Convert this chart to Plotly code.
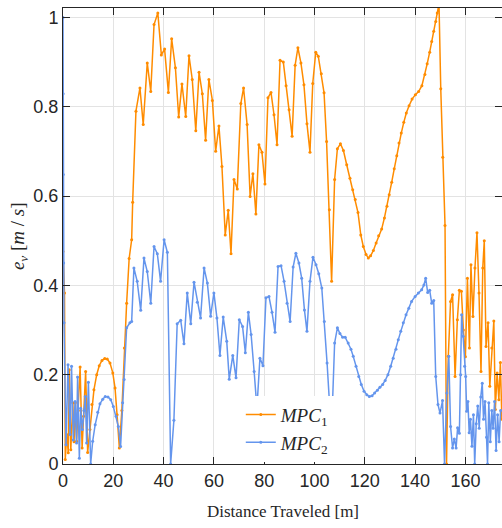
import plotly.graph_objects as go

# Velocity tracking error along the path for the two controllers
mpc1_dist = [0.0, 0.6, 0.9, 1.5, 2.1, 2.5, 3.1, 3.9, 4.4, 4.9, 5.4, 6.1, 6.8, 7.6, 8.2, 9.0, 9.8,
             10.7, 11.5, 12.3, 13.4, 14.4, 15.5, 16.6, 17.6, 18.7, 19.8, 20.7, 21.5, 22.4, 23.4,
             24.4, 25.3, 26.3, 27.3, 27.7, 29.0, 30.6, 31.9, 33.5, 34.9, 36.2, 37.7, 39.1, 40.4,
             41.9, 43.2, 44.7, 46.0, 47.3, 48.8, 50.1, 51.4, 52.8, 54.1, 55.4, 56.7, 58.0, 59.4,
             60.7, 62.0, 63.2, 64.5, 65.7, 66.8, 68.0, 69.3, 70.7, 71.8, 73.2, 74.4, 75.5, 76.7,
             77.9, 79.1, 80.3, 81.5, 82.7, 83.9, 85.1, 86.3, 87.6, 88.7, 89.9, 91.1, 92.3, 93.4,
             94.6, 95.8, 97.0, 98.2, 99.3, 100.5, 101.5, 102.7, 103.8, 104.8, 105.9, 106.8, 108.0,
             109.1, 110.3, 111.5, 112.8, 114.1, 115.2, 116.2, 117.3, 118.4, 119.4, 120.5, 121.4,
             122.3, 123.4, 124.5, 125.5, 126.7, 127.8, 128.8, 129.7, 130.7, 131.7, 132.7, 133.6,
             134.5, 135.5, 136.5, 137.6, 138.8, 140.1, 141.4, 142.7, 143.9, 144.8, 145.8, 146.6,
             147.4, 148.2, 148.8, 149.5, 150.2, 151.0, 151.9, 152.5, 153.2, 154.1, 154.9, 155.9,
             156.8, 157.6, 158.4, 159.2, 160.0, 160.8, 161.6, 162.2, 163.0, 163.8, 164.6, 165.4,
             166.2, 166.9, 167.5, 168.2, 169.0, 169.7, 170.5, 171.3, 171.9, 172.6, 173.3, 173.9,
             174.5]
mpc1_err = [0.476, 0.383, 0.01, 0.066, 0.025, 0.211, 0.032, 0.137, 0.05, 0.137, 0.051, 0.12, 0.217,
            0.036, 0.107, 0.207, 0.026, 0.077, 0.133, 0.166, 0.20, 0.22, 0.232, 0.236, 0.235, 0.226,
            0.204, 0.17, 0.11, 0.036, 0.12, 0.26, 0.36, 0.46, 0.502, 0.586, 0.79, 0.842, 0.76,
            0.898, 0.834, 0.984, 1.01, 0.916, 0.929, 0.832, 0.952, 0.887, 0.777, 0.851, 0.778,
            0.914, 0.861, 0.746, 0.877, 0.829, 0.725, 0.861, 0.814, 0.70, 0.757, 0.666, 0.513,
            0.568, 0.471, 0.637, 0.616, 0.807, 0.842, 0.76, 0.599, 0.65, 0.56, 0.715, 0.698, 0.627,
            0.82, 0.832, 0.782, 0.715, 0.904, 0.90, 0.847, 0.793, 0.734, 0.893, 0.932, 0.898,
            0.849, 0.762, 0.698, 0.852, 0.922, 0.913, 0.874, 0.831, 0.722, 0.569, 0.409, 0.637,
            0.706, 0.717, 0.702, 0.67, 0.64, 0.614, 0.592, 0.563, 0.513, 0.487, 0.469, 0.461,
            0.466, 0.478, 0.495, 0.511, 0.526, 0.551, 0.577, 0.603, 0.631, 0.661, 0.69, 0.719,
            0.741, 0.765, 0.786, 0.802, 0.817, 0.827, 0.834, 0.847, 0.872, 0.896, 0.922, 0.946,
            0.969, 0.991, 1.01, 1.03, 0.84, 0.687, 0.534, 0.0, 0.241, 0.364, 0.379, 0.196, 0.323,
            0.389, 0.387, 0.30, 0.24, 0.416, 0.26, 0.446, 0.33, 0.439, 0.518, 0.383, 0.207, 0.439,
            0.50, 0.263, 0.316, 0.174, 0.26, 0.32, 0.122, 0.204, 0.144, 0.227, 0.10]

mpc2_dist = [0.0, 0.05, 0.1, 0.25, 0.4, 1.2, 2.0, 2.8, 3.4, 4.1, 4.8, 5.4, 5.8, 6.5, 7.0, 7.7, 8.3,
             8.9, 9.4, 10.1, 11.0, 11.8, 12.8, 13.8, 14.7, 15.8, 16.8, 17.9, 19.0, 20.0, 21.1,
             22.0, 22.9, 23.7, 24.3, 25.3, 26.6, 27.3, 28.2, 29.5, 30.9, 32.2, 33.5, 34.9, 36.2,
             37.5, 38.8, 40.2, 41.5, 42.8, 44.1, 45.4, 46.8, 48.1, 49.4, 50.8, 52.1, 53.4, 54.7,
             56.1, 57.4, 58.7, 60.0, 61.2, 62.4, 63.7, 65.1, 66.1, 67.5, 68.8, 70.1, 71.4, 72.5,
             73.7, 74.8, 76.0, 77.1, 78.3, 79.5, 80.7, 81.9, 83.1, 84.3, 85.5, 86.7, 87.9, 89.1,
             90.3, 91.5, 92.6, 93.8, 94.9, 96.0, 97.0, 98.2, 99.4, 100.6, 101.7, 102.9, 103.9,
             105.0, 106.0, 106.9, 108.0, 109.1, 110.1, 111.2, 112.2, 113.4, 114.5, 115.4, 116.5,
             117.6, 118.6, 119.7, 120.8, 121.8, 122.9, 123.9, 125.0, 126.0, 127.1, 128.1, 129.2,
             130.3, 131.3, 132.4, 133.3, 134.3, 135.3, 136.4, 137.5, 138.6, 140.0, 141.3, 142.6,
             143.5, 144.2, 145.0, 145.8, 146.6, 147.4, 148.2, 149.1, 149.9, 150.9, 151.7, 152.6,
             153.4, 154.1, 154.9, 155.6, 156.3, 156.9, 157.6, 158.1, 158.5, 159.1, 159.7, 160.1,
             160.5, 161.0, 161.5, 162.0, 162.6, 163.2, 163.7, 164.3, 164.9, 165.5, 166.1, 166.7,
             167.2, 167.8, 168.4, 168.8, 169.3, 169.9, 170.5, 171.0, 171.6, 172.2, 172.8, 173.4,
             174.0]
mpc2_err = [1.0, 0.829, 0.648, 0.45, 0.316, 0.043, 0.222, 0.066, 0.219, 0.054, 0.14, 0.047, 0.195,
            0.013, 0.125, 0.077, 0.12, 0.151, 0.047, 0.183, 0.0, 0.051, 0.088, 0.116, 0.135, 0.145,
            0.151, 0.150, 0.144, 0.129, 0.107, 0.084, 0.039, 0.137, 0.189, 0.305, 0.316, 0.319,
            0.439, 0.409, 0.344, 0.461, 0.431, 0.36, 0.487, 0.471, 0.409, 0.502, 0.474, 0.0, 0.098,
            0.314, 0.322, 0.269, 0.383, 0.314, 0.407, 0.362, 0.327, 0.439, 0.405, 0.331, 0.383,
            0.327, 0.243, 0.329, 0.275, 0.19, 0.243, 0.193, 0.323, 0.308, 0.249, 0.34, 0.29, 0.207,
            0.125, 0.237, 0.22, 0.372, 0.375, 0.34, 0.295, 0.442, 0.444, 0.409, 0.36, 0.319, 0.441,
            0.472, 0.45, 0.416, 0.345, 0.297, 0.409, 0.463, 0.446, 0.426, 0.394, 0.319, 0.226,
            0.133, 0.095, 0.271, 0.305, 0.292, 0.284, 0.284, 0.271, 0.257, 0.241, 0.219, 0.196,
            0.178, 0.163, 0.155, 0.151, 0.153, 0.159, 0.165, 0.172, 0.178, 0.187, 0.2, 0.219,
            0.237, 0.257, 0.278, 0.297, 0.316, 0.334, 0.349, 0.364, 0.375, 0.383, 0.39, 0.401,
            0.416, 0.384, 0.389, 0.36, 0.366, 0.196, 0.133, 0.114, 0.142, 0.0, 0.159, 0.241, 0.084,
            0.036, 0.056, 0.036, 0.081, 0.069, 0.2, 0.334, 0.286, 0.219, 0.196, 0.118, 0.14, 0.07,
            0.10, 0.04, 0.11, 0.0, 0.09, 0.13, 0.08, 0.15, 0.181, 0.10, 0.14, 0.06, 0.0, 0.137,
            0.05, 0.12, 0.08, 0.14, 0.03, 0.11, 0.05, 0.12]

x_ticks = [0, 20, 40, 60, 80, 100, 120, 140, 160]
y_ticks = [0, 0.2, 0.4, 0.6, 0.8, 1.0]
y_tick_text = ["0", "0.2", "0.4", "0.6", "0.8", "1"]

ORANGE = "rgb(255,140,0)"
BLUE = "rgb(100,149,237)"
SANS = "Liberation Sans, Arial, sans-serif"
SERIF = "Liberation Serif, Times New Roman, serif"

fig = go.Figure()
fig.add_trace(go.Scatter(
    x=mpc1_dist, y=mpc1_err, mode="lines+markers", name="<i>MPC</i><sub>1</sub>",
    line=dict(color=ORANGE, width=1.5), marker=dict(color=ORANGE, size=3),
    cliponaxis=True,
))
fig.add_trace(go.Scatter(
    x=mpc2_dist, y=mpc2_err, mode="lines+markers", name="<i>MPC</i><sub>2</sub>",
    line=dict(color=BLUE, width=1.5), marker=dict(color=BLUE, size=3),
    cliponaxis=True,
))

axis_common = dict(
    showline=True, linecolor="#262626", linewidth=1, mirror="ticks",
    ticks="inside", ticklen=7, tickwidth=1, tickcolor="#262626",
    showgrid=True, gridcolor="#e3e3e3", gridwidth=1, zeroline=False,
    tickfont=dict(family=SANS, size=18, color="#262626"),
)

fig.update_xaxes(range=[0, 174.55], tickvals=x_ticks, **axis_common)
fig.update_yaxes(range=[0, 1.021], tickvals=y_ticks, ticktext=y_tick_text, **axis_common)

fig.add_annotation(
    text="Distance Traveled [m]", xref="paper", yref="paper", x=0.5, y=-0.08,
    xanchor="center", yanchor="top", showarrow=False,
    font=dict(family=SERIF, size=17, color="#262626"),
)
fig.add_annotation(
    text="<i>e<sub>v</sub></i> [<i>m</i> / <i>s</i>]", xref="paper", yref="paper",
    x=-0.1, y=0.5, xanchor="center", yanchor="middle", textangle=-90, showarrow=False,
    font=dict(family=SERIF, size=19, color="#262626"),
)

fig.update_layout(
    width=502, height=528,
    margin=dict(l=63, r=0, t=8, b=64),
    paper_bgcolor="white", plot_bgcolor="white",
    showlegend=True,
    legend=dict(
        x=0.405, y=0.15, xanchor="left", yanchor="top",
        bgcolor="white", borderwidth=0,
        font=dict(family=SERIF, size=19, color="#262626"),
        tracegroupgap=0,
    ),
)

fig.write_html("out.html")
